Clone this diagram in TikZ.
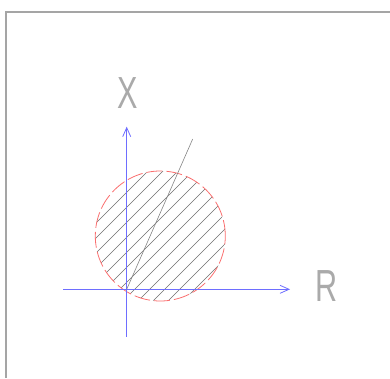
\documentclass[tikz,border=0pt]{standalone}
\usepackage{fontspec}
\usepackage{tikz}
\usetikzlibrary{arrows.meta,calc}
\newfontfamily\cadfont[FakeStretch=0.68]{Liberation Sans}
\definecolor{AxisBlue}{RGB}{110,110,255}
\definecolor{RimRed}{RGB}{250,110,110}
\definecolor{HatchGray}{RGB}{110,110,110}
\definecolor{FrameGray}{RGB}{165,165,165}
\definecolor{LabelGray}{RGB}{170,170,170}

\begin{document}
\begin{tikzpicture}[
          x=1pt,y=1pt,
          ax/.style={-{Straight Barb[length=9pt,width=8pt]},AxisBlue,line width=0.8pt},
          rim/.style={RimRed,line width=0.8pt,dash pattern=on 16pt off 4pt},
          hl/.style={HatchGray,line width=0.6pt},
          lb/.style={text=LabelGray,inner sep=0pt,font=\cadfont\fontsize{45}{45}\selectfont}
        ]
          \useasboundingbox (0,0) rectangle (390,378);
          \draw[FrameGray,line width=1.2pt] (6,0) -- (6,366) -- (390,366);

          \coordinate (o) at (126.7,88.7);
          \coordinate (c) at (160.3,142);
          \coordinate (xb) at (126.7,41.3);
          \coordinate (xt) at (126.7,251.3);
          \coordinate (rl) at (63,88.7);
          \coordinate (rr) at (290,88.7);
          \coordinate (tp) at (192.7,239);

          % hatching
          \begin{scope}
            \clip (c) circle (65);
            \foreach \b in {59,44,...,-106}
              \draw[hl] (80,80+\b) -- (240,240+\b);
          \end{scope}
          \draw[rim] (c) circle (65);

          \draw[ax] (rl) -- (rr);
          \draw[ax] (xb) -- (xt);
          \draw[hl,HatchGray!85] (o) -- (tp);

          \node(lx)[lb] at (127.7,285){X};
          \node(lr)[lb] at (326.5,92){R};
        \end{tikzpicture}
\end{document}
